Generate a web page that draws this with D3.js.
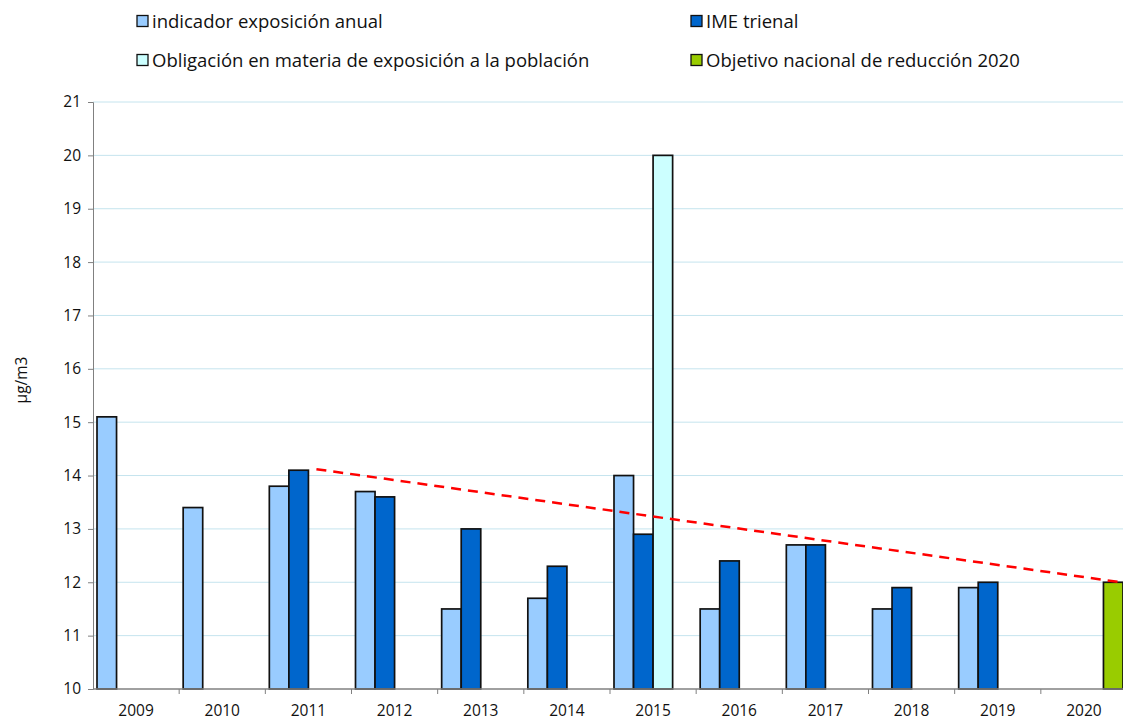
<!DOCTYPE html>
<html><head><meta charset="utf-8">
<script src="https://cdn.jsdelivr.net/npm/d3@7/dist/d3.min.js"></script>
<style>body{margin:0;background:#fff;}svg{display:block;font-family:'Open Sans',sans-serif;}</style>
</head><body><svg id="c" width="1123" height="721"></svg>
<script>
const years = ["2009","2010","2011","2012","2013","2014","2015","2016","2017","2018","2019","2020"];
const seriesNames = ["indicador exposición anual","IME trienal","Obligación en materia de exposición a la población","Objetivo nacional de reducción 2020"];
const seriesColors = ["#99ccff","#0066cc","#ccffff","#99cc00"];
const annual = [15.1,13.4,13.8,13.7,11.5,11.7,14.0,11.5,12.7,11.5,11.9,null];
const ime    = [null,null,14.1,13.6,13.0,12.3,12.9,12.4,12.7,11.9,12.0,null];
const oblig  = [null,null,null,null,null,null,20,null,null,null,null,null];
const target = [null,null,null,null,null,null,null,null,null,null,null,12];
const yTicks = [10,11,12,13,14,15,16,17,18,19,20,21];
const trend = [{year:"2011",value:14.12},{year:"2020",value:12}];
const yLabel = "µg/m3";

const svg = d3.select("#c");
const L=93, R=1127, T=102, B=689;
const x = d3.scaleBand().domain(years).range([L,R]).paddingInner(0).paddingOuter(0);
const x1 = d3.scaleBand().domain(d3.range(4)).range([4, x.bandwidth()-4]);
const y = d3.scaleLinear().domain([10,21]).range([B,T]);
const bw = x1.bandwidth();

// grid
svg.append("g").selectAll("line").data(yTicks.filter(d=>d>10)).join("line")
  .attr("x1",L).attr("x2",R).attr("y1",d=>y(d)).attr("y2",d=>y(d))
  .attr("stroke","#c5e4ee").attr("stroke-width",1);

// bars
const all = [annual,ime,oblig,target];
const barData = [];
all.forEach((arr,si)=>arr.forEach((v,i)=>{ if(v!=null) barData.push({s:si,year:years[i],v}); }));
svg.append("g").selectAll("rect").data(barData).join("rect")
  .attr("x",d=>x(d.year)+x1(d.s)).attr("width",bw)
  .attr("y",d=>y(d.v)).attr("height",d=>y(10)-y(d.v))
  .attr("fill",d=>seriesColors[d.s]).attr("stroke","#111").attr("stroke-width",1.7);

// axes
const yAxis = d3.axisLeft(y).tickValues(yTicks).tickSize(5).tickPadding(7).tickFormat(d3.format("d"));
const gy = svg.append("g").attr("transform",`translate(${L},0)`).call(yAxis);
gy.select(".domain").attr("stroke","#808080");
gy.selectAll(".tick line").attr("stroke","#808080");
gy.selectAll("text").attr("font-size",15.5).attr("fill","#111").attr("font-family","'Open Sans',sans-serif");

const gx = svg.append("g").attr("transform",`translate(0,${B})`);
gx.append("line").attr("x1",L).attr("x2",R).attr("stroke","#808080").attr("stroke-width",1.5);
gx.selectAll("line.t").data(years.slice(1)).join("line").attr("class","t")
  .attr("x1",d=>x(d)).attr("x2",d=>x(d)).attr("y1",0).attr("y2",5).attr("stroke","#808080");
gx.selectAll("text").data(years).join("text")
  .attr("x",d=>x(d)+x.bandwidth()/2).attr("y",27).attr("text-anchor","middle")
  .attr("font-size",15.5).attr("fill","#111").text(d=>d);

// y label
svg.append("text").attr("transform","translate(27,380) rotate(-90)").attr("text-anchor","middle")
  .attr("font-size",15.5).attr("fill","#111").text(yLabel);

// trend line
const tx = [x(trend[0].year)+x1(1)+bw+8, x(trend[1].year)+x1(3)+bw-2];
svg.append("line").attr("x1",tx[0]).attr("y1",y(trend[0].value)).attr("x2",tx[1]).attr("y2",y(trend[1].value))
  .attr("stroke","#ff0000").attr("stroke-width",2.5).attr("stroke-dasharray","10,7");

// legend
const legPos = [[137,21],[691,21],[137,60],[691,60]];
const lg = svg.append("g").selectAll("g").data(seriesNames).join("g")
  .attr("transform",(d,i)=>`translate(${legPos[i][0]},${legPos[i][1]})`);
lg.append("rect").attr("x",0).attr("y",-5.5).attr("width",11).attr("height",11)
  .attr("fill",(d,i)=>seriesColors[i]).attr("stroke","#111").attr("stroke-width",1.3);
lg.append("text").attr("x",15).attr("y",6.5).attr("font-size",18.5).attr("fill","#111").text(d=>d);
</script></body></html>
